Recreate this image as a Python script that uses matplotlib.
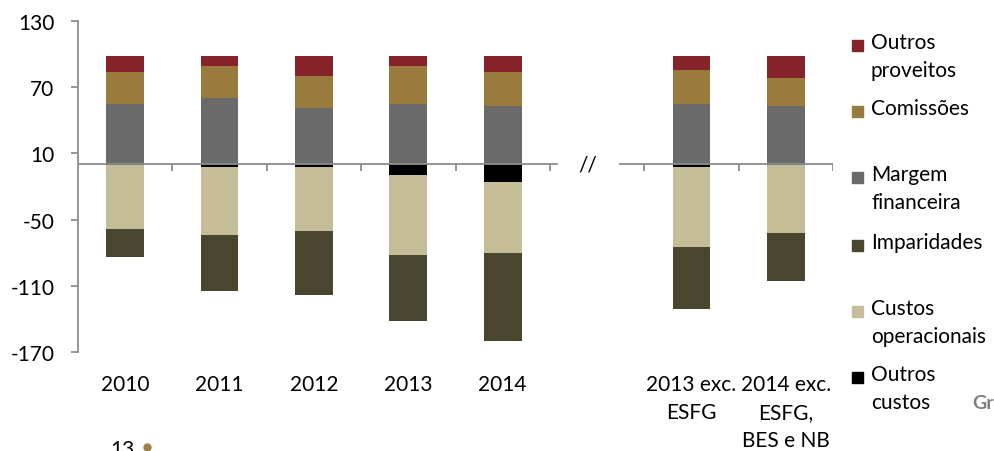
import matplotlib.pyplot as plt
from matplotlib.patches import Rectangle
import numpy as np

plt.rcParams['font.family'] = ['Lato', 'DejaVu Sans']
plt.rcParams['axes.unicode_minus'] = False

# categories (the gap slot between 2014 and the "exc." bars is left empty)
categories = ["2010", "2011", "2012", "2013", "2014", "2013 exc.\nESFG", "2014 exc.\nESFG,\nBES e NB"]

# positive components
margem = [55.0, 60.5, 51.4, 55.0, 53.2, 55.0, 53.2]
comissoes = [29.1, 29.0, 29.0, 34.5, 30.9, 30.9, 25.4]
outros_proveitos = [14.2, 8.8, 17.9, 8.8, 14.2, 12.4, 19.7]

# negative components
outros_custos = [-0.3, -2.2, -2.5, -9.7, -15.5, -2.5, -0.5]
custos_op = [-58.5, -62.0, -58.1, -72.7, -65.1, -72.6, -61.9]
imparidades = [-25.4, -50.6, -57.8, -59.3, -79.3, -55.7, -43.6]

yticks = [130, 70, 10, -50, -110, -170]

c_red = '#85222A'
c_gold = '#9A7B3E'
c_gray = '#6A6A6A'
c_olive = '#4A452E'
c_tan = '#C5BD98'
c_black = '#000000'
axis_col = '#8C8C8C'

fig = plt.figure(figsize=(9.94, 4.52), dpi=100)
ax = fig.add_axes([78 / 994, 99.3 / 452, 755 / 994, 330.4 / 452])

slots = np.r_[np.arange(5), np.arange(6, 8)]
x = slots + 0.5
w = 0.4

mg = np.array(margem)
cm = np.array(comissoes)
op = np.array(outros_proveitos)
oc = np.array(outros_custos)
co = np.array(custos_op)
im = np.array(imparidades)

ax.bar(x, mg, w, color=c_gray, zorder=2)
ax.bar(x, cm, w, bottom=mg, color=c_gold, zorder=2)
ax.bar(x, op, w, bottom=mg + cm, color=c_red, zorder=2)
ax.bar(x, oc, w, color=c_black, zorder=2)
ax.bar(x, co, w, bottom=oc, color=c_tan, zorder=2)
ax.bar(x, im, w, bottom=oc + co, color=c_olive, zorder=2)

# broken zero line with boundary ticks
ax.plot([0, 5.085], [0, 0], color=axis_col, lw=1.3, zorder=3, solid_capstyle='butt')
ax.plot([5.73, 8], [0, 0], color=axis_col, lw=1.3, zorder=3, solid_capstyle='butt')
for b in [1, 2, 3, 4, 5, 6, 7, 8]:
    ax.plot([b, b], [0, -6], color=axis_col, lw=1.3, zorder=3, solid_capstyle='butt')
ax.text(5.4, 0, "//", ha='center', va='center', fontsize=15)

ax.set_xlim(0, 8)
ax.set_ylim(-170, 130)
ax.set_yticks(yticks)
ax.tick_params(axis='y', direction='out', length=5, width=1.3, color=axis_col,
               labelsize=15, pad=12)
ax.set_xticks(x)
ax.set_xticklabels(categories, fontsize=15, linespacing=1.5)
ax.tick_params(axis='x', length=0, pad=16)

for s in ['top', 'right', 'bottom']:
    ax.spines[s].set_visible(False)
ax.spines['left'].set_color(axis_col)
ax.spines['left'].set_linewidth(1.3)

# legend drawn by hand on the right
legend_items = [
    ("Outros\nproveitos", c_red, 46),
    ("Comissões", c_gold, 112),
    ("Margem\nfinanceira", c_gray, 178),
    ("Imparidades", c_olive, 246),
    ("Custos\noperacionais", c_tan, 312),
    ("Outros\ncustos", c_black, 378),
]
W, H = 994, 452
for label, col, yc in legend_items:
    fig.add_artist(Rectangle((852 / W, 1 - (yc + 5.5) / H), 11 / W, 11 / H,
                             transform=fig.transFigure, color=col))
    fig.text(871 / W, 1 - (yc - 13) / H, label, ha='left', va='top',
             fontsize=15, linespacing=1.5)

# page footer bits
fig.text(110 / W, 1 - 440 / H, "13", ha='left', va='top', fontsize=15)
fig.add_artist(plt.Line2D([147 / W], [1 - 448 / H], marker='o', markersize=5,
                          color='#A07F45', transform=fig.transFigure))
fig.text(972 / W, 1 - 404 / H, "Gr", ha='left', va='center', fontsize=14,
         color='#7F7F7F', fontweight='bold')

fig.savefig("out.png", dpi=100)
